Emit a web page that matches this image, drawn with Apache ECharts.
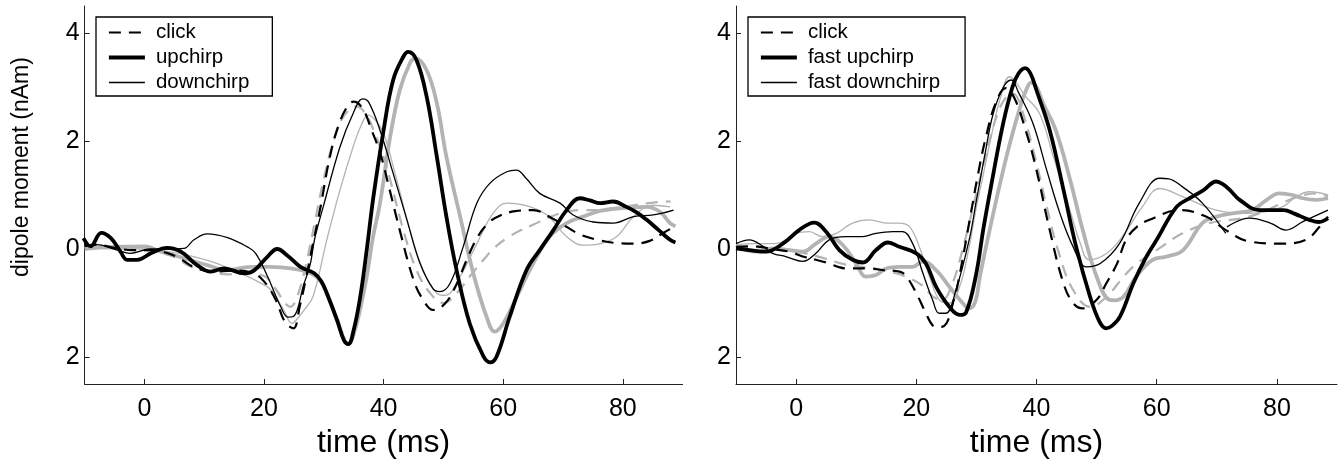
<!DOCTYPE html>
<html><head><meta charset="utf-8">
<script src="https://cdn.jsdelivr.net/npm/echarts@6/dist/echarts.min.js"></script>
<style>html,body{margin:0;padding:0;background:#fff}#c{width:1338px;height:459px}</style>
</head><body><div id="c"></div><script>
// ---- axis ticks ----
const xTickValues = [0, 20, 40, 60, 80];
const yTickValues = [-2, 0, 2, 4];
const yTickLabels = ['2', '0', '2', '4'];
const xRange = [-10, 90];
const yRange = [-2.5, 4.5];

// ---- legend names ----
const leftNames = ['click', 'upchirp', 'downchirp'];
const rightNames = ['click', 'fast upchirp', 'fast downchirp'];

// ---- left panel data: [time ms, dipole moment nAm] ----
const leftClick = [[-10,0.05],[-8,0.08],[-5,0.02],[-2,-0.02],[1,-0.02],[4,-0.08],[6,-0.18],[8,-0.32],[11.5,-0.42],[15,-0.4],[18,-0.44],[20,-0.6],[22,-0.95],[23.5,-1.35],[24.9,-1.47],[26,-1.05],[27,-0.55],[28,0.0],[29.4,0.75],[31,1.7],[32.5,2.3],[34,2.65],[35,2.73],[36.5,2.6],[38,2.2],[39.5,1.75],[41,1.1],[42.7,0.35],[45,-0.57],[46.6,-0.94],[48.3,-1.13],[50.2,-1.02],[52,-0.7],[53.9,-0.2],[55.6,0.2],[57.5,0.48],[59.5,0.62],[62,0.7],[65,0.72],[68,0.58],[70.6,0.41],[73,0.26],[76.2,0.16],[79,0.11],[81.8,0.1],[84.5,0.15],[86.5,0.28],[88.7,0.42]];
const leftClickGrey = [[-10,0.05],[-6,0.05],[-2,0.0],[2,-0.05],[5,-0.15],[7.8,-0.33],[11,-0.42],[13.9,-0.47],[17,-0.45],[20,-0.5],[22,-0.75],[23.5,-1.0],[24.4,-1.07],[25.5,-0.9],[27,-0.3],[28.5,0.5],[30,1.3],[31.5,1.95],[33,2.4],[34.5,2.6],[35.5,2.64],[37,2.5],[38.5,2.15],[40,1.7],[41.1,1.28],[43.3,0.35],[45.5,-0.39],[47.8,-0.82],[50,-1.0],[52.2,-0.82],[54.4,-0.51],[56.7,-0.2],[58.5,0.02],[60.6,0.2],[63,0.35],[65,0.45],[68,0.6],[70.6,0.69],[73,0.72],[76.2,0.72],[79,0.76],[81.8,0.81],[85,0.86],[88,0.88]];
const leftUp = [[-10.2,0.2],[-9,0.05],[-7.2,0.3],[-5.6,0.2],[-4,-0.05],[-2.9,-0.2],[-1.2,-0.2],[1.1,-0.08],[3.8,0.02],[6.1,-0.05],[8.8,-0.3],[11.1,-0.42],[13.3,-0.36],[16.7,-0.45],[18.3,-0.4],[20.6,-0.14],[22.2,0.0],[23.9,-0.12],[26.1,-0.33],[28.4,-0.45],[29.6,-0.6],[30.5,-0.82],[32.2,-1.31],[33.4,-1.7],[34.1,-1.76],[35,-1.5],[36.1,-0.88],[37.2,0.0],[38.3,0.97],[40,2.2],[41.6,3.13],[43.3,3.56],[44.1,3.65],[45.5,3.5],[47.2,2.82],[48.9,1.71],[50.5,0.6],[52.2,-0.39],[54.4,-1.38],[56.7,-1.99],[57.8,-2.1],[58.9,-1.99],[61.1,-1.25],[63.9,-0.39],[66.1,-0.02],[68.4,0.35],[70.6,0.72],[72.8,0.94],[74.5,0.9],[76.2,0.85],[78.4,0.88],[80.6,0.78],[82.3,0.68],[84,0.54],[86,0.35],[87.9,0.17],[88.8,0.12]];
const leftUpGrey = [[-10,0.0],[-7,0.03],[-4.5,0.04],[0,0.05],[2.8,-0.05],[6.6,-0.17],[10.5,-0.3],[13.9,-0.39],[17.8,-0.33],[21.1,-0.33],[24.5,-0.36],[27.8,-0.45],[29.5,-0.6],[30.8,-0.9],[32.3,-1.35],[33.5,-1.7],[34.1,-1.76],[35.2,-1.5],[36.3,-1.0],[37.2,-0.5],[38.2,0.2],[39.4,0.85],[41.1,2.08],[42.7,2.94],[44.4,3.44],[45.3,3.53],[47.2,3.31],[48.9,2.7],[50.5,1.71],[52.8,0.6],[55,-0.45],[57.2,-1.25],[58.6,-1.53],[60,-1.38],[62.3,-0.88],[65,-0.27],[67.8,0.23],[70.6,0.48],[73.4,0.6],[76,0.7],[79,0.75],[84,0.78],[86.2,0.69],[87.9,0.48],[88.8,0.42]];
const leftDown = [[-10,0.08],[-8,0.08],[-4.5,-0.02],[-2.4,-0.08],[1,0.0],[4,0.0],[6.6,0.01],[8.3,0.17],[10.5,0.28],[13.9,0.21],[17.2,0.04],[18.6,-0.08],[20.6,-0.51],[22.8,-1.07],[24,-1.26],[24.9,-1.25],[26.7,-0.64],[27.7,-0.3],[28.5,0.2],[29.9,0.78],[32.7,1.89],[34.9,2.51],[36.5,2.78],[37.5,2.72],[39.4,2.2],[41.6,1.4],[43.9,0.54],[46.1,-0.27],[48.3,-0.74],[49.4,-0.79],[51.1,-0.64],[53.3,0.04],[55.6,0.85],[57.8,1.22],[60.6,1.43],[62.2,1.46],[63.9,1.3],[66.1,1.03],[69.5,0.85],[71.7,0.63],[75.1,0.5],[78.4,0.48],[81.8,0.6],[85.1,0.63],[88.5,0.72]];
const leftDownGrey = [[-10,0.03],[-4.5,0.0],[1,0.0],[4,-0.05],[6.6,-0.1],[11.1,-0.23],[14,-0.35],[16.7,-0.48],[18.9,-0.6],[21.1,-0.75],[23.3,-1.13],[24.7,-1.38],[25.5,-1.3],[26.7,-1.13],[28.2,-0.88],[30.5,0.17],[32.7,1.09],[34.9,1.89],[36.3,2.3],[37.4,2.48],[38.5,2.4],[40,2.14],[42.2,1.28],[44.4,0.35],[46.6,-0.39],[48.9,-0.82],[50.3,-0.86],[52.8,-0.51],[55.6,0.1],[58.3,0.66],[60.6,0.85],[64,0.8],[67.3,0.63],[70.6,0.23],[73.4,0.07],[76.2,0.1],[79,0.23],[81.8,0.6],[85.1,0.81],[87.9,0.78]];

// ---- right panel data ----
const rightClick = [[-10,0.04],[-7,0.05],[-4,0.0],[-1.1,-0.05],[1.1,-0.14],[3.3,-0.2],[5,-0.25],[8.3,-0.36],[12.2,-0.36],[14.4,-0.39],[17.2,-0.42],[18.3,-0.5],[20,-0.82],[21.6,-1.19],[22.7,-1.41],[23.8,-1.45],[25,-1.38],[26.1,-1.0],[27,-0.6],[28.9,0.55],[30.3,1.4],[31.6,2.08],[33.2,2.7],[34.9,2.98],[36.3,2.8],[38.2,2.2],[40,1.46],[42.2,0.35],[44.5,-0.64],[46.1,-1.0],[47.7,-1.1],[50,-0.94],[51.6,-0.64],[53.4,-0.27],[54.9,0.17],[56.7,0.41],[58.8,0.54],[63.8,0.72],[68.2,0.6],[71.5,0.35],[75.4,0.14],[80.9,0.1],[84.8,0.17],[87.1,0.41],[88.5,0.6]];
const rightClickGrey = [[-10,0.05],[-5,0.02],[0,-0.05],[4,-0.15],[8,-0.28],[12,-0.35],[16.6,-0.45],[19,-0.55],[20.9,-0.67],[22.8,-0.88],[24.3,-0.95],[25.8,-0.7],[27.5,-0.1],[29.5,0.8],[31.5,1.7],[33.5,2.5],[35,2.82],[36.1,2.88],[37.5,2.6],[40,1.59],[41.7,0.78],[43.9,-0.14],[46.1,-0.76],[48.9,-1.07],[51.7,-0.88],[54.5,-0.51],[56.7,-0.27],[60,-0.02],[64.3,0.29],[68.8,0.48],[74.3,0.57],[77.5,0.68],[80.9,0.85],[83.5,0.97],[86.5,1.03],[88.5,0.97]];
const rightUp = [[-10,0.01],[-7.8,-0.02],[-5,-0.05],[-2.2,0.1],[0.5,0.35],[3,0.49],[5,0.32],[7.2,-0.02],[9.4,-0.2],[11.1,-0.25],[13.3,-0.02],[15.3,0.12],[17.2,0.04],[20,-0.08],[21.6,-0.27],[23.3,-0.7],[25.5,-1.07],[27.2,-1.22],[28.3,-1.17],[29.9,-0.5],[31.2,0.4],[32.5,1.2],[34.4,2.3],[36,3.0],[37,3.25],[38.1,3.35],[39,3.25],[40,2.94],[42.2,2.2],[44.5,1.09],[46.6,0.04],[48.9,-0.88],[50.5,-1.35],[51.6,-1.47],[52.6,-1.42],[53.9,-1.25],[56.1,-0.64],[58,-0.2],[60,0.17],[63.3,0.78],[65.5,0.94],[67.8,1.09],[69.9,1.25],[71,1.2],[72.2,1.09],[73.8,0.91],[77.1,0.72],[81.1,0.72],[83,0.65],[85.4,0.54],[87,0.5],[88.5,0.57]];
const rightUpGrey = [[-10,0.07],[-6.7,-0.05],[-4,0.01],[-1.1,-0.02],[1.1,-0.05],[3.3,0.1],[5.5,0.23],[7.8,0.07],[10,-0.27],[11.6,-0.51],[13.3,-0.48],[15,-0.36],[17.2,-0.33],[19.4,-0.33],[21.1,-0.23],[23.3,-0.39],[25.5,-0.7],[27.7,-1.0],[28.8,-1.1],[29.8,-0.98],[30.6,-0.5],[32.2,0.35],[35,1.71],[37.3,2.64],[38.3,2.95],[39.1,3.08],[40,3.0],[41.1,2.7],[43.2,2.2],[45.6,1.28],[47.7,0.35],[50,-0.51],[52.1,-0.94],[53,-0.95],[54.5,-0.88],[56.6,-0.51],[59.3,-0.2],[61.7,-0.14],[64.4,-0.02],[67.6,0.48],[70,0.6],[72.6,0.66],[75.9,0.72],[78.3,0.91],[80.4,1.03],[82.6,1.0],[84.3,0.94],[86.5,0.91],[88.5,0.94]];
const rightDown = [[-10,0.1],[-7.8,0.17],[-5.5,0.05],[-3.9,-0.08],[-1.7,-0.14],[1.1,-0.23],[3.3,-0.08],[5.5,0.17],[8.3,0.23],[11.1,0.23],[13.3,0.29],[16.1,0.32],[17.7,0.32],[19.4,0.1],[21.1,-0.45],[22.7,-0.94],[23.8,-1.19],[24.9,-1.19],[26.6,-0.76],[28.8,0.17],[30,0.9],[31.5,1.8],[32.8,2.51],[34.5,3.0],[35.8,3.13],[37,2.9],[39.4,2.33],[41.7,1.46],[43.9,0.66],[46.1,0.04],[48.3,-0.33],[50.6,-0.27],[53.8,0.1],[57.1,0.85],[60.5,1.31],[62,1.3],[64.3,1.15],[67.6,0.85],[71.5,0.29],[71.6,null],[71.7,0.41],[75.4,0.57],[78.9,0.48],[81.5,0.35],[84.4,0.51],[88.5,0.72]];
const rightDownGrey = [[-10,0.08],[-7,0.1],[-3.4,0.1],[0,0.29],[2.2,0.32],[4.4,0.23],[6.7,0.29],[9.4,0.48],[12.2,0.54],[15,0.48],[17.2,0.48],[18.9,0.41],[20.5,0.04],[22.2,-0.51],[23.8,-0.94],[25.5,-1.0],[27.2,-0.7],[28.8,0.04],[29.9,0.72],[31,1.3],[32.5,2.1],[34,2.8],[35.5,3.19],[36.5,3.1],[38,2.85],[40.5,2.51],[42.8,1.71],[44.9,0.97],[47.3,0.1],[48.8,-0.2],[51.7,-0.08],[54.3,0.23],[57.6,0.78],[60.5,1.12],[64.3,0.97],[69.9,0.72],[75.4,0.66],[80.9,0.78],[83,0.95],[85.4,1.06],[88.5,1.0]];

// ---- styles ----
const FONT = 'Liberation Sans, Arial, Helvetica, sans-serif';
const BLACK = '#000000', GREY = '#b3b3b3';
const DASH = [12, 8];
const styles = {
  dashed: {width: 2.2, type: DASH},
  thick: {width: 3.8, type: 'solid'},
  thin: {width: 1.3, type: 'solid'}
};

function line(name, data, kind, color, idx) {
  return {
    type: 'line', name: name, data: data, xAxisIndex: idx, yAxisIndex: idx,
    symbol: 'none', showSymbol: false, smooth: 0.4, connectNulls: false,
    silent: true, animation: false,
    lineStyle: {color: color, width: styles[kind].width, type: styles[kind].type, cap: 'butt', join: 'round'},
    itemStyle: {color: color}
  };
}

function xAxis(idx) {
  return {
    type: 'value', gridIndex: idx, min: xRange[0], max: xRange[1],
    name: 'time (ms)', nameLocation: 'middle', nameGap: 34.5,
    nameTextStyle: {fontFamily: FONT, fontSize: 32, color: '#000'},
    axisLine: {show: true, onZero: false, lineStyle: {color: '#222', width: 1}},
    axisTick: {show: true, inside: true, length: 5, customValues: xTickValues, lineStyle: {color: '#222', width: 1}},
    axisLabel: {customValues: xTickValues, margin: 13, fontFamily: FONT, fontSize: 25, color: '#000'},
    splitLine: {show: false}
  };
}
function yAxis(idx) {
  return {
    type: 'value', gridIndex: idx, min: yRange[0], max: yRange[1],
    axisLine: {show: true, onZero: false, lineStyle: {color: '#222', width: 1}},
    axisTick: {show: true, inside: true, length: 5, customValues: yTickValues, lineStyle: {color: '#222', width: 1}},
    axisLabel: {customValues: yTickValues, margin: 5, fontFamily: FONT, fontSize: 25, color: '#000',
      formatter: function (v) { const i = yTickValues.indexOf(v); return i >= 0 ? yTickLabels[i] : ''; }},
    splitLine: {show: false}
  };
}
function legend(names, left, padRight) {
  const kinds = ['dashed', 'thick', 'thin'];
  return {
    show: true, orient: 'vertical', left: left, top: 17,
    padding: [5, padRight, 3, 11], itemGap: 4, itemWidth: 36, itemHeight: 14,
    borderColor: '#000', borderWidth: 1.3, backgroundColor: '#fff',
    selectedMode: false,
    itemStyle: {opacity: 0},
    textStyle: {fontFamily: FONT, fontSize: 20.5, color: '#000', padding: [0, 0, 0, 6]},
    data: names.map(function (n, i) {
      return {name: n, itemStyle: {opacity: 0},
        lineStyle: {color: '#000', width: styles[kinds[i]].width, type: styles[kinds[i]].type, cap: 'butt'}};
    })
  };
}

const chart = echarts.init(document.getElementById('c'), null, {renderer: 'canvas'});
chart.setOption({
  animation: false,
  backgroundColor: '#ffffff',
  grid: [
    {left: 84.6, top: 6, width: 598, height: 378, containLabel: false, outerBoundsMode: 'none'},
    {left: 736, top: 6, width: 601, height: 378, containLabel: false, outerBoundsMode: 'none'}
  ],
  xAxis: [xAxis(0), xAxis(1)],
  yAxis: [yAxis(0), yAxis(1)],
  legend: [legend(leftNames, 96, 23), legend(rightNames, 748, 25)],
  graphic: [{
    type: 'text', x: 22, y: 167, rotation: Math.PI / 2,
    style: {text: 'dipole moment (nAm)', fontFamily: FONT, fontSize: 23, fill: '#000',
      textAlign: 'center', textVerticalAlign: 'middle'}
  }],
  series: [
    line('click grey', leftClickGrey, 'dashed', GREY, 0),
    line('upchirp grey', leftUpGrey, 'thick', GREY, 0),
    line('downchirp grey', leftDownGrey, 'thin', GREY, 0),
    line(leftNames[0], leftClick, 'dashed', BLACK, 0),
    line(leftNames[1], leftUp, 'thick', BLACK, 0),
    line(leftNames[2], leftDown, 'thin', BLACK, 0),
    line('fast click grey', rightClickGrey, 'dashed', GREY, 1),
    line('fast upchirp grey', rightUpGrey, 'thick', GREY, 1),
    line('fast downchirp grey', rightDownGrey, 'thin', GREY, 1),
    line(rightNames[0], rightClick, 'dashed', BLACK, 1),
    line(rightNames[1], rightUp, 'thick', BLACK, 1),
    line(rightNames[2], rightDown, 'thin', BLACK, 1)
  ]
});
</script></body></html>
